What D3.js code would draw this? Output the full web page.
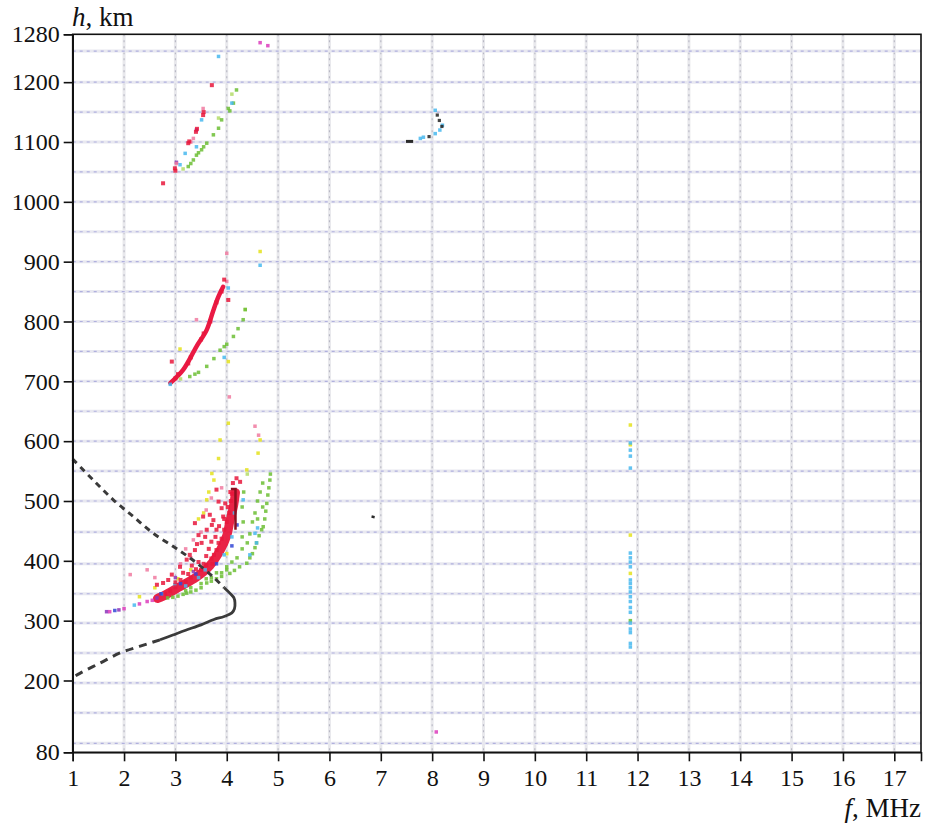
<!DOCTYPE html>
<html><head><meta charset="utf-8">
<script src="https://cdn.jsdelivr.net/npm/d3@7"></script>
<style>body{margin:0;background:#fff}</style>
</head><body>
<svg id="c" width="927" height="825"></svg>
<script>
// ---- tick values ----
const xTicks = [1,2,3,4,5,6,7,8,9,10,11,12,13,14,15,16,17];
const yTicks = [80,200,300,400,500,600,700,800,900,1000,1100,1200,1280];
const gridF = [2,3,4,5,6,7,8,9,10,11,12,13,14,15,16,17];
const gridH = [95,146,196,246,296,345,395,448,500,550,600,650,700,750,800,850,900,950,1000,1050,1100,1150,1200,1252];

// ---- model curve (black) ----
const blackUpperDashed = [[1.0,570],[1.4,535],[1.79,502],[2.18,474],[2.57,446],[2.96,424],[3.2,410],[3.42,396],[3.75,372],[3.95,355]];
const blackNose = [[3.95,355],[4.06,346],[4.14,338],[4.16,330],[4.15,320],[4.1,313],[3.95,307],[3.75,302],[3.5,293],[3.2,284],[2.95,276],[2.7,268]];
const blackLowerDashed = [[2.7,268],[2.3,257],[1.92,246],[1.53,229],[1.14,212],[1.0,205]];

// ---- traces drawn as bands ----
const redBand1 = [[2.65,337],[2.76,341],[3.09,357],[3.41,373],[3.67,392],[3.87,417],[4.0,442],[4.06,466],[4.13,491],[4.17,514]];
const darkRedEdge = [[4.08,520],[4.17,520],[4.17,452]];
const redBand2 = [[2.9,697],[3.15,719],[3.41,758],[3.61,786],[3.74,819],[3.84,842],[3.93,858]];
const blackSeg8 = [[7.49,1101],[7.63,1101]];
const blackSeg7 = [[6.82,474],[6.88,473]];

// ---- echo points by colour ----
const redPts = [[3.67,477],[3.74,468],[3.84,499],[3.80,452],[3.61,452],[3.45,443],[3.51,430],[3.38,418],[3.28,410],[3.22,402],[3.09,390],[2.93,377],[2.86,368],[2.76,363],[2.64,360],[4.19,538],[4.26,532],[3.54,474],[3.38,463],[3.71,460],[3.93,474],[3.97,496],[3.80,519],[2.9,350],[3.0,356],[3.2,365],[3.3,372],[3.5,385],[3.6,393],[3.7,404],[3.8,418],[3.9,437],[3.95,452],[4.0,465],[4.05,480],[4.08,500],[4.1,512],[2.8,345],[3.55,395],[3.75,410],
  [3.1,368],[3.25,378],[3.4,386],[3.45,398],[3.6,408],[3.65,420],[3.7,432],[3.78,440],[3.85,458],[3.9,488],[3.58,440],[3.42,428],[3.32,392],[3.15,380],[3.0,364],[3.72,395],[3.84,430],[3.95,470],[4.02,490],[4.07,515],[4.12,530],
  [2.93,733],[4.03,836],[3.95,870],[3.05,712],[3.3,740],[3.5,770],[3.68,800],[3.8,832],[3.9,850],[3.0,705],[3.25,730],[3.55,780],
  [2.76,1031],[2.99,1056],[3.0,1052],[3.25,1098],[3.27,1101],[3.40,1117],[3.42,1122],[3.54,1145],[3.55,1150],[3.71,1195]];
const pinkPts = [[2.12,377],[2.45,385],[2.6,372],[3.1,395],[3.3,405],[3.5,448],[3.7,505],[3.9,522],[4.05,674],[4.62,610],[4.55,625],[4.0,914],[4.0,867],[3.41,803],[3.02,1064],[3.35,1106],[3.54,1156],[3.3,1100],[3.35,435],[3.6,485],[3.2,420]];
const magentaPts = [[1.72,315],[2.0,320],[2.3,328],[2.45,332],[2.55,334],[4.65,1266],[4.80,1261],[8.08,114]];
const purplePts = [[1.66,315],[1.9,318],[2.64,338],[3.0,372],[3.35,382],[3.41,1120],[3.02,1066]];
const bluePts = [[1.82,317],[2.72,345],[3.1,362],[3.4,378],[3.8,395],[4.1,425],[4.2,460]];
const cyanPts = [[2.2,326],[2.75,345],[2.99,360],[3.2,358],[3.45,372],[3.58,385],[3.95,410],[4.1,440],[4.15,480],[4.32,502],[4.45,410],[4.55,446],[4.58,430],[4.6,455],
  [2.9,695],[4.03,856],[4.65,894],[3.95,740],
  [3.09,1062],[3.19,1081],[3.41,1092],[3.51,1137],[4.10,1165],[3.84,1243],
  [7.77,1106],[7.83,1108],[8.06,1114],[8.15,1120],[8.2,1128],[8.06,1153],
  [11.86,597],[11.86,585],[11.86,575],[11.86,555],[11.86,413],[11.86,405],[11.86,398],[11.86,390],[11.86,368],[11.86,362],[11.86,355],[11.86,348],[11.86,340],[11.86,332],[11.86,322],[11.86,314],[11.86,296],[11.86,286],[11.86,280],[11.86,262],[11.86,256]];
const yellowPts = [[2.3,340],[2.6,355],[3.05,370],[3.3,385],[3.45,470],[3.55,480],[3.61,502],[3.65,515],[3.71,546],[3.75,535],[3.84,571],[3.87,602],[4.03,630],[4.0,412],[4.39,552],[4.61,580],[4.65,602],
  [3.09,754],[4.03,733],[4.65,917],
  [11.86,627],[11.86,594],[11.86,443],[11.86,379]];
const greenPts = [[2.85,338],[2.95,339],[3.05,341],[3.15,344],[3.22,346],[3.3,348],[3.4,351],[3.5,355],[3.61,363],[3.7,366],[3.8,370],[3.9,374],[4.06,379],[4.15,384],[4.25,390],[4.39,396],[4.45,405],[4.5,412],[4.55,422],[4.58,430],[4.63,442],[4.68,452],[4.71,457],[4.74,470],[4.76,483],[4.78,496],[4.8,510],[4.82,522],[4.84,535],
  [3.3,355],[3.5,362],[3.7,372],[3.9,380],[4.0,390],[4.1,398],[4.2,405],[4.3,420],[4.3,440],[4.32,465],[4.3,490],[4.33,515],[4.4,430],[4.45,445],[4.5,465],[4.55,480],[4.6,500],[4.65,515],[4.7,530],[4.6,470],[4.7,490],[3.6,370],[3.8,380],[4.0,385],[3.2,350],[4.85,545],
  [3.28,708],[3.38,712],[3.45,715],[3.61,725],[3.75,738],[3.87,752],[3.95,758],[4.0,762],[4.13,775],[4.22,788],[4.32,803],[4.36,820],
  [3.25,1059],[3.3,1064],[3.35,1070],[3.41,1078],[3.45,1082],[3.51,1087],[3.55,1092],[3.61,1098],[3.74,1112],[3.84,1123],[3.90,1137],[4.03,1156],[4.06,1152],[4.13,1165],[4.19,1187],
  [11.86,300]];
const lightGreenPts = [[3.84,1140],[3.15,1055],[4.1,1180],[4.36,820],[3.1,704],[4.4,545]];
const blackPts = [[7.94,1109],[8.19,1126],[8.14,1136],[8.10,1145]];

// ---- drawing ----
const svg = d3.select('#c');
const x = d3.scaleLinear().domain([1, 17.52]).range([72.7, 921]);
const y = d3.scaleLinear().domain([80, 1280]).range([752.3, 34.3]);
const [x0, x1] = x.range(), [y0, y1] = y.range();

// grid
const g = svg.append('g');
g.selectAll('.vb').data(gridF).join('line').attr('x1', d => x(d)).attr('x2', d => x(d)).attr('y1', y1).attr('y2', y0)
  .attr('stroke', '#e8e8ec').attr('stroke-width', 3);
g.selectAll('.vd').data(gridF).join('line').attr('x1', d => x(d)).attr('x2', d => x(d)).attr('y1', y1).attr('y2', y0)
  .attr('stroke', '#b8b8c4').attr('stroke-width', 1.1).attr('stroke-dasharray', '2,4');
g.selectAll('.hb').data(gridH).join('line').attr('x1', x0).attr('x2', x1).attr('y1', d => y(d)).attr('y2', d => y(d))
  .attr('stroke', '#e8e8f0').attr('stroke-width', 3);
g.selectAll('.hd').data(gridH).join('line').attr('x1', x0).attr('x2', x1).attr('y1', d => y(d)).attr('y2', d => y(d))
  .attr('stroke', '#b0b0de').attr('stroke-width', 1.2).attr('stroke-dasharray', '3,4');

const line = d3.line().x(d => x(d[0])).y(d => y(d[1]));
const lineC = d3.line().x(d => x(d[0])).y(d => y(d[1])).curve(d3.curveCatmullRom);

// bands
svg.append('path').attr('d', lineC(redBand1)).attr('fill', 'none').attr('stroke', '#e8173c').attr('stroke-width', 9).attr('stroke-linecap', 'round').attr('opacity', 0.95);
svg.append('path').attr('d', lineC(redBand2)).attr('fill', 'none').attr('stroke', '#ea1a44').attr('stroke-width', 4.5).attr('stroke-linecap', 'round');

function pts(data, color, s) {
  svg.append('g').selectAll('rect').data(data).join('rect')
    .attr('x', d => x(d[0]) - s / 2).attr('y', d => y(d[1]) - s / 2)
    .attr('width', s).attr('height', s).attr('fill', color).attr('opacity', 0.85);
}
pts(lightGreenPts, '#b4dc6a', 3.5);
pts(greenPts, '#6cbe34', 3.5);
pts(yellowPts, '#e4e21c', 3.5);
pts(cyanPts, '#48b8ee', 3.5);
pts(bluePts, '#3346d6', 3.5);
pts(purplePts, '#8a34b8', 3.5);
pts(pinkPts, '#f07aa0', 3.5);
pts(magentaPts, '#dc3cbc', 3.5);
pts(redPts, '#e8173c', 4);
pts(blackPts, '#222', 3.2);

svg.append('path').attr('d', line(darkRedEdge)).attr('fill', 'none').attr('stroke', '#8a1020').attr('stroke-width', 2.5);

// model curve
svg.append('path').attr('d', lineC(blackUpperDashed)).attr('fill', 'none').attr('stroke', '#3a3a3a').attr('stroke-width', 3).attr('stroke-dasharray', '6,5');
svg.append('path').attr('d', lineC(blackNose)).attr('fill', 'none').attr('stroke', '#3a3a3a').attr('stroke-width', 2.8);
svg.append('path').attr('d', lineC(blackLowerDashed)).attr('fill', 'none').attr('stroke', '#3a3a3a').attr('stroke-width', 3).attr('stroke-dasharray', '8,6');
svg.append('path').attr('d', line(blackSeg8)).attr('fill', 'none').attr('stroke', '#2a2a2a').attr('stroke-width', 3);
svg.append('path').attr('d', line(blackSeg7)).attr('fill', 'none').attr('stroke', '#2a2a2a').attr('stroke-width', 2.5);

// frame
svg.append('rect').attr('x', x0).attr('y', y1).attr('width', x1 - x0).attr('height', y0 - y1)
  .attr('fill', 'none').attr('stroke', '#111').attr('stroke-width', 1.6);

const font = '"Liberation Serif", "Times New Roman", serif';
const ax = svg.append('g').attr('transform', `translate(0,${y0})`)
  .call(d3.axisBottom(x).tickValues(xTicks).tickFormat(d3.format('d')).tickSize(9).tickPadding(8));
const ay = svg.append('g').attr('transform', `translate(${x0},0)`)
  .call(d3.axisLeft(y).tickValues(yTicks).tickFormat(d3.format('d')).tickSize(9).tickPadding(4));
[ax, ay].forEach(a => {
  a.attr('font-family', font);
  a.select('.domain').attr('stroke', '#111').attr('stroke-width', 1.6);
  a.selectAll('.tick line').attr('stroke', '#111').attr('stroke-width', 1.6);
  a.selectAll('text').style('font-family', font).attr('font-size', 24).attr('fill', '#111');
});

const t1 = svg.append('text').attr('x', 72).attr('y', 26).style('font-family', font).attr('font-size', 27).attr('fill', '#111');
t1.append('tspan').attr('font-style', 'italic').text('h');
t1.append('tspan').text(', km');
const t2 = svg.append('text').attr('x', 921).attr('y', 817).attr('text-anchor', 'end').style('font-family', font).attr('font-size', 27).attr('fill', '#111');
t2.append('tspan').attr('font-style', 'italic').text('f');
t2.append('tspan').text(', MHz');
</script>
</body></html>
